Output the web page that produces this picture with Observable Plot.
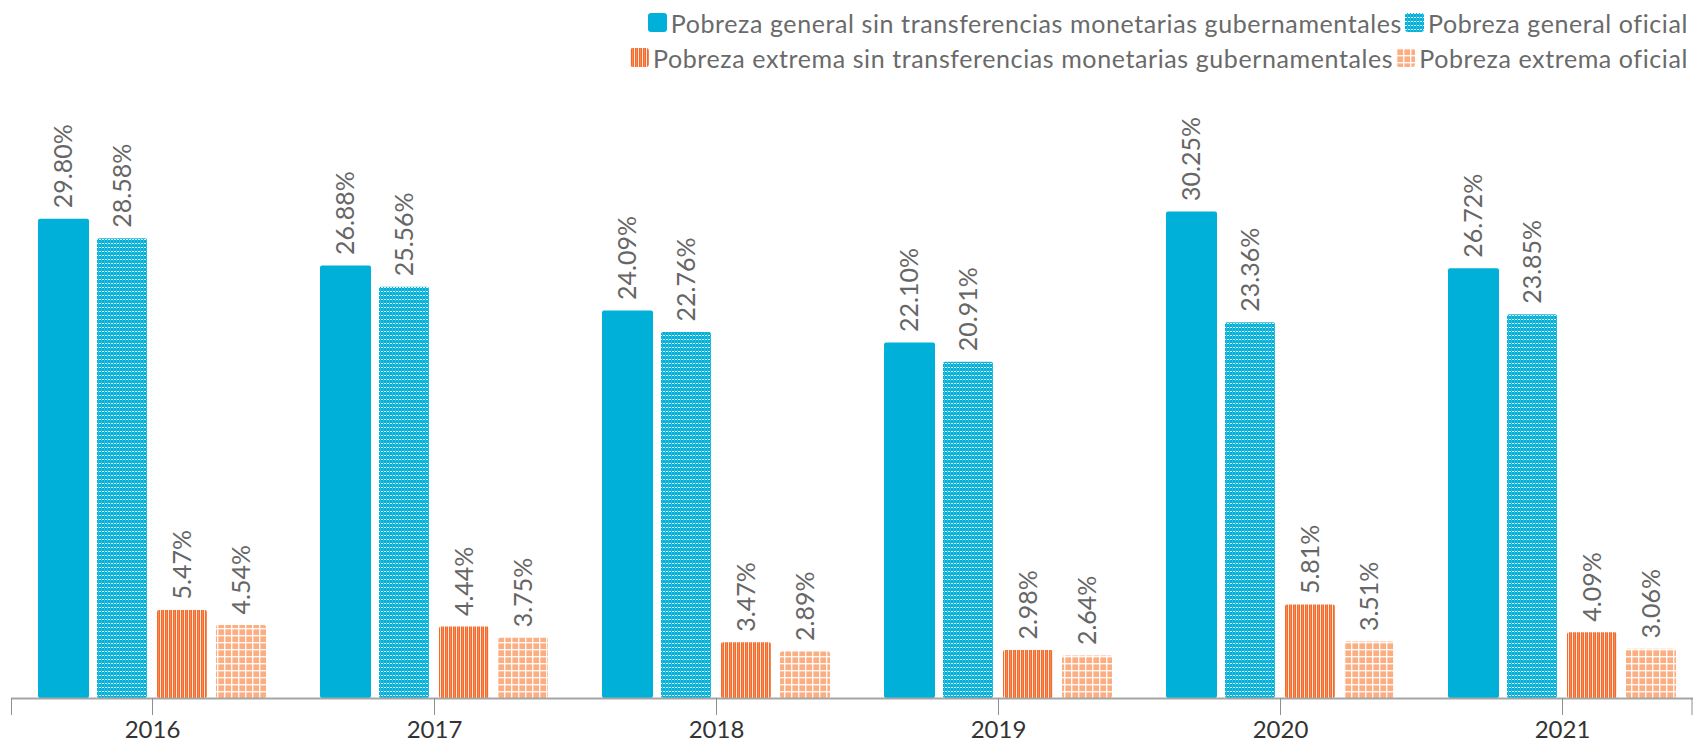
<!DOCTYPE html>
<html>
<head>
<meta charset="utf-8">
<script src="https://cdn.jsdelivr.net/npm/d3@7"></script>
<script src="https://cdn.jsdelivr.net/npm/@observablehq/plot@0.6"></script>
<style>
  body { margin: 0; background: #fff; font-family: Lato, "Open Sans", sans-serif; }
  #wrap { position: relative; width: 1693px; height: 742px; overflow: hidden; }
  #legend { position: absolute; right: 5px; top: 5px; color: #6a6a6a; font-size: 25px; letter-spacing: 0.6px; white-space: nowrap; }
  .line { height: 35px; display: flex; justify-content: flex-end; align-items: center; }
  .item { display: inline-flex; align-items: center; }
  .item svg { margin-right: 4px; margin-left: 3px; }
  #chart { position: absolute; left: 0; top: 75px; }
</style>
</head>
<body>
<svg width="0" height="0" style="position:absolute">
  <defs>
    <pattern id="pGen" patternUnits="userSpaceOnUse" width="3" height="4">
      <rect width="3" height="4" fill="#00B0D8"></rect>
      <rect x="0" y="0" width="2" height="1" fill="#fff" opacity="0.9"></rect>
      <rect x="2" y="1" width="1" height="3" fill="#fff" opacity="0.18"></rect>
    </pattern>
    <pattern id="pExt" patternUnits="userSpaceOnUse" width="4" height="4">
      <rect width="4" height="4" fill="#F26B2A"></rect>
      <rect x="0" y="0" width="1" height="4" fill="#fff" opacity="0.85"></rect>
      <rect x="2.2" y="0" width="0.7" height="4" fill="#fff" opacity="0.3"></rect>
    </pattern>
    <pattern id="pExtOf" patternUnits="userSpaceOnUse" width="7" height="7">
      <rect width="7" height="7" fill="#FBAE82"></rect>
      <rect x="0" y="0" width="7" height="1.4" fill="#fff" opacity="0.9"></rect>
      <rect x="0" y="0" width="1.4" height="7" fill="#fff" opacity="0.9"></rect>
    </pattern>
  </defs>
</svg>
<div id="wrap">
  <div id="legend"></div>
  <div id="chart"></div>
</div>
<script>
// ---- data ----
const years = ["2016", "2017", "2018", "2019", "2020", "2021"];
const seriesNames = [
  "Pobreza general sin transferencias monetarias gubernamentales",
  "Pobreza general oficial",
  "Pobreza extrema sin transferencias monetarias gubernamentales",
  "Pobreza extrema oficial"
];
const generalSin = [29.80, 26.88, 24.09, 22.10, 30.25, 26.72];
const generalOficial = [28.58, 25.56, 22.76, 20.91, 23.36, 23.85];
const extremaSin = [5.47, 4.44, 3.47, 2.98, 5.81, 4.09];
const extremaOficial = [4.54, 3.75, 2.89, 2.64, 3.51, 3.06];

// ---- styling ----
const fills = ["#00B0D8", "url(#pGen)", "url(#pExt)", "url(#pExtOf)"];
const insets = [[27, 204], [86, 146], [146, 86], [205, 27]];
const W = 1693, H = 667;

// legend
const legend = document.getElementById("legend");
const lines = [[0, 1], [2, 3]];
lines.forEach(idx => {
  const line = document.createElement("div");
  line.className = "line";
  idx.forEach(j => {
    const span = document.createElement("span");
    span.className = "item";
    span.innerHTML = `<svg width="19" height="19"><rect width="19" height="19" rx="3" fill="${fills[j]}"></rect></svg>${seriesNames[j]}`;
    line.appendChild(span);
  });
  legend.appendChild(line);
});

const allSeries = [generalSin, generalOficial, extremaSin, extremaOficial];
const marks = [];
allSeries.forEach((vals, j) => {
  const rows = years.map((y, i) => ({year: y, value: vals[i]}));
  const [il, ir] = insets[j];
  marks.push(Plot.barY(rows, {x: "year", y: "value", fill: fills[j], insetLeft: il, insetRight: ir, rx: 2}));
  marks.push(Plot.text(rows, {
    x: "year", y: "value", text: d => d.value.toFixed(2) + "%",
    rotate: -90, textAnchor: "start", dx: (il - ir) / 2, dy: -11,
    fontSize: 25, fill: "#666", fontFamily: "Lato, sans-serif", letterSpacing: 2
  }));
});
marks.push(Plot.ruleY([0], {stroke: "#a5a5a5", strokeWidth: 2}));
marks.push(Plot.axisX({tickSize: 17, tickPadding: 5, fontSize: 24, stroke: "#8f8f8f", fill: "#333", label: null, fontFamily: "Lato, sans-serif"}));

const chart = Plot.plot({
  width: W, height: H,
  marginLeft: 11, marginRight: 0, marginTop: 60, marginBottom: 44,
  style: {background: "transparent", fontFamily: "Lato, sans-serif", overflow: "visible"},
  x: {domain: years, range: [11, 1703], padding: 0, axis: null},
  y: {domain: [0, 35], axis: null},
  marks
});

// edge ticks of the category axis
const y0 = chart.scale("y").apply(0);
const sel = d3.select(chart);
[11.5, W - 1].forEach(x => {
  sel.append("line").attr("x1", x).attr("x2", x).attr("y1", y0).attr("y2", y0 + 17)
    .attr("stroke", "#8f8f8f").attr("stroke-width", 1);
});
document.getElementById("chart").appendChild(chart);
</script>
</body>
</html>
